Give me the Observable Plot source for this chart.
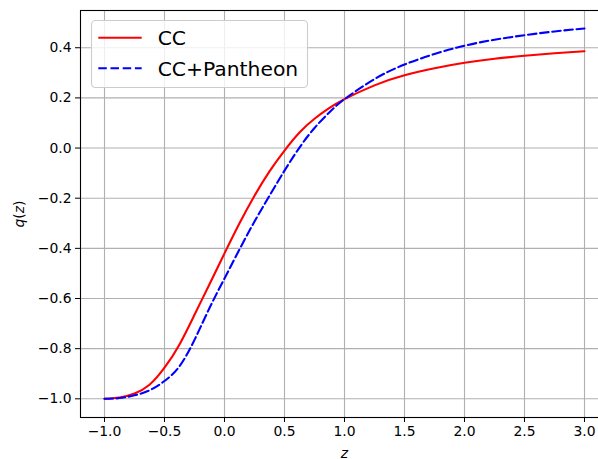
<!DOCTYPE html>
<html><head><meta charset="utf-8">
<script src="https://cdn.jsdelivr.net/npm/d3@7"></script>
<script src="https://cdn.jsdelivr.net/npm/@observablehq/plot@0.6"></script>
<style>
html,body{margin:0;padding:0;background:#fff}
#wrap{position:relative;width:598px;height:459px;overflow:hidden;font-family:"DejaVu Sans",sans-serif}
#wrap > svg{display:block}
#legend{position:absolute;left:0;top:0}
</style>
</head><body>
<div id="wrap"></div>
<script>
const zCC = [-1, -0.875, -0.75, -0.625, -0.5, -0.375, -0.25, -0.125, 0, 0.125, 0.25, 0.375, 0.5, 0.625, 0.75, 0.875, 1, 1.25, 1.5, 1.75, 2, 2.25, 2.5, 2.75, 3];
const qCC = [-1.0, -0.995, -0.979, -0.944, -0.876, -0.783, -0.665, -0.543, -0.42, -0.30, -0.19, -0.093, -0.01, 0.062, 0.117, 0.16, 0.195, 0.25, 0.29, 0.318, 0.34, 0.356, 0.368, 0.378, 0.386];
const zCP = [-1, -0.875, -0.75, -0.625, -0.5, -0.375, -0.25, -0.125, 0, 0.125, 0.25, 0.375, 0.5, 0.625, 0.75, 0.875, 1, 1.25, 1.5, 1.75, 2, 2.25, 2.5, 2.75, 3];
const qCP = [-1.0, -0.997, -0.986, -0.966, -0.929, -0.87, -0.765, -0.638, -0.52, -0.404, -0.293, -0.19, -0.09, 0.002, 0.08, 0.143, 0.195, 0.275, 0.333, 0.375, 0.408, 0.432, 0.45, 0.465, 0.477];
const xTicks = [-1.0, -0.5, 0.0, 0.5, 1.0, 1.5, 2.0, 2.5, 3.0];
const yTicks = [-1.0, -0.8, -0.6, -0.4, -0.2, 0.0, 0.2, 0.4];
const series = [
  {name: "CC", z: zCC, q: qCC, color: "#ff0000", dash: null},
  {name: "CC+Pantheon", z: zCP, q: qCP, color: "#0000ff", dash: "8.5,3.7"}
];
const fmt = d3.format(".1f");

const marks = [
  Plot.gridX(xTicks, {stroke: "#b0b0b0", strokeOpacity: 1, strokeWidth: 1.1}),
  Plot.gridY(yTicks, {stroke: "#b0b0b0", strokeOpacity: 1, strokeWidth: 1.1}),
  ...series.map(s => Plot.line(s.z.map((z, i) => ({z, q: s.q[i]})), {
    x: "z", y: "q", stroke: s.color, strokeWidth: 2.1, strokeDasharray: s.dash, curve: "natural"
  })),
  Plot.frame({stroke: "#000", strokeWidth: 1.1}),
  Plot.axisX(xTicks, {tickSize: 5, tickPadding: 4, fontSize: 13.9, tickFormat: fmt, label: "z", labelAnchor: "center", labelArrow: "none", labelOffset: 40}),
  Plot.axisY(yTicks, {tickSize: 5, tickPadding: 4, fontSize: 13.9, tickFormat: fmt, label: "q(z)", labelAnchor: "center", labelArrow: "none", labelOffset: 66})
];

const chart = Plot.plot({
  width: 598, height: 459,
  marginLeft: 80, marginTop: 10, marginBottom: 42, marginRight: -10,
  x: {domain: [-1.2, 3.2]},
  y: {domain: [-1.0745, 0.5485]},
  style: {fontFamily: "DejaVu Sans", fontSize: "13.9px", color: "#000", background: "#fff", overflow: "visible"},
  marks
});
const wrap = document.getElementById("wrap");
wrap.appendChild(chart);

// italic math labels
chart.querySelectorAll('g[aria-label="x-axis label"] text').forEach(t => {
  t.innerHTML = '<tspan font-style="italic">z</tspan>';
  t.setAttribute("font-size", "13.9");
});
chart.querySelectorAll('g[aria-label="y-axis label"] text').forEach(t => {
  t.innerHTML = '<tspan font-style="italic">q</tspan>(<tspan font-style="italic">z</tspan>)';
  t.setAttribute("font-size", "13.9");
});

// legend (matplotlib-style box, upper left)
const NS = "http://www.w3.org/2000/svg";
const leg = document.createElementNS(NS, "svg");
leg.setAttribute("id", "legend");
leg.setAttribute("width", 598);
leg.setAttribute("height", 459);
let html = `<rect x="91.5" y="20.5" width="216" height="67" rx="4" ry="4" fill="#fff" fill-opacity="0.8" stroke="#cccccc" stroke-width="1.1"/>`;
series.forEach((s, i) => {
  const cy = 37.7 + i * 30.6;
  html += `<line x1="98.3" x2="141.7" y1="${cy}" y2="${cy}" stroke="${s.color}" stroke-width="2.1" ${s.dash ? `stroke-dasharray="${s.dash}"` : ""}/>`;
  html += `<text x="157.7" y="${cy}" dy="0.36em" font-family="DejaVu Sans" font-size="20.3" fill="#000">${s.name}</text>`;
});
leg.innerHTML = html;
wrap.appendChild(leg);
</script>
</body></html>
